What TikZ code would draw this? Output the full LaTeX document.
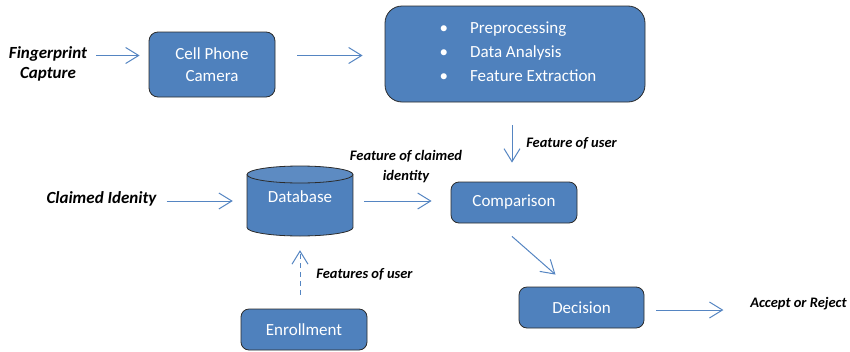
\documentclass[tikz,border=0pt]{standalone}
\usepackage{fontspec}
\setmainfont{Carlito}
\usetikzlibrary{arrows.meta}
\definecolor{boxblue}{HTML}{4F81BD}
\definecolor{arrblue}{HTML}{5585C2}
\definecolor{edge}{HTML}{2B2B2B}
\tikzset{
  box/.style={draw=edge, line width=0.8pt, fill=boxblue, rounded corners=#1, text=white,
     font=\fontsize{17}{22}\selectfont, align=center, inner sep=0pt},
  box/.default=9pt,
  lbl/.style={font=\fontsize{14.5}{20}\selectfont\bfseries\itshape, align=center, inner sep=0pt},
  biglbl/.style={font=\fontsize{17}{20}\selectfont\bfseries\itshape, align=center, inner sep=0pt},
  arr/.style={draw=arrblue, line width=1pt, -{Straight Barb[length=13pt,width=16pt,line width=1pt]}},
}
\begin{document}
\begin{tikzpicture}[x=1pt,y=-1pt]
\useasboundingbox (0,0) rectangle (850,351);
% nodes
\node[biglbl] (fp) at (48,64) {Fingerprint\\Capture};
\node[box, minimum width=126pt, minimum height=65pt] (cam) at (212,64.5) {Cell Phone\\Camera};
\node[box=17pt, minimum width=260pt, minimum height=96pt] (feat) at (515,54) {};
\node[text=white, inner sep=0pt, font=\fontsize{17}{24}\selectfont] (feattxt) at (518,53)
  {\begin{tabular}{@{}l@{\hspace{22pt}}l@{}}\textbullet & Preprocessing\\ \textbullet & Data Analysis\\ \textbullet & Feature Extraction\end{tabular}};
\node[box=8pt, minimum width=126pt, minimum height=41pt] (comp) at (514,202.5) {Comparison};
\node[box=8pt, minimum width=125pt, minimum height=41pt] (dec) at (581.5,307.5) {Decision};
\node[box=8pt, minimum width=126pt, minimum height=41pt] (enr) at (304,329.5) {Enrollment};
\node[biglbl] (claim) at (101.5,199) {Claimed Idenity};
\node[lbl] (acc) at (798.5,304) {Accept or Reject};
% database cylinder
\node[minimum width=106pt, minimum height=70pt, inner sep=0pt] (db) at (300,201) {};
\fill[boxblue] (247,174.5) rectangle (353,227.5);
\fill[boxblue] (300,227.5) ellipse [x radius=53, y radius=8.5];
\draw[edge, line width=0.8pt] (247,174.5) -- (247,227.5)
   arc[start angle=180, end angle=0, x radius=53, y radius=8.5] -- (353,174.5);
\filldraw[fill=boxblue!92!white, draw=edge, line width=0.8pt] (300,174.5) ellipse [x radius=53, y radius=8.5];
\node[text=white, font=\fontsize{17}{22}\selectfont, inner sep=0pt] (dbtxt) at (300,197) {Database};
% labels on arrows
\node[lbl] (lfu) at (571.5,143) {Feature of user};
\node[lbl] (lfc) at (406,167) {Feature of claimed\\identity};
\node[lbl] (lfsu) at (364.5,274) {Features of user};
% arrows
\coordinate (a1) at ([xshift=9pt, yshift=9pt]fp.east |- cam.west);
\draw[arr] (a1) -- ([xshift=-9pt]a1 -| cam.west);
\coordinate (a2) at ([xshift=22pt, yshift=9pt]cam.east);
\draw[arr] (a2) -- ([xshift=-22pt]a2 -| feat.west);
\draw[arr] ([xshift=-3pt, yshift=-23pt]feat.south) -- ([xshift=-2pt, yshift=19pt]comp.north);
\draw[arr] ([xshift=10pt]claim.east |- db) -- ([xshift=-14pt]db.west);
\draw[arr] ([xshift=11pt]db.east) -- ([xshift=-19pt]comp.west |- db.east);
\draw[arr] ([xshift=-2pt, yshift=-13pt]comp.south) -- ([xshift=-26pt, yshift=12pt]dec.north);
\draw[arr] ([xshift=12pt, yshift=-2.5pt]dec.east) -- ([xshift=79pt, yshift=-2.5pt]dec.east);
\draw[arr, dashed, dash pattern=on 5pt off 4pt] ([xshift=-4pt, yshift=14pt]enr.north) -- ([yshift=-14pt]db.south);
\end{tikzpicture}
\end{document}
